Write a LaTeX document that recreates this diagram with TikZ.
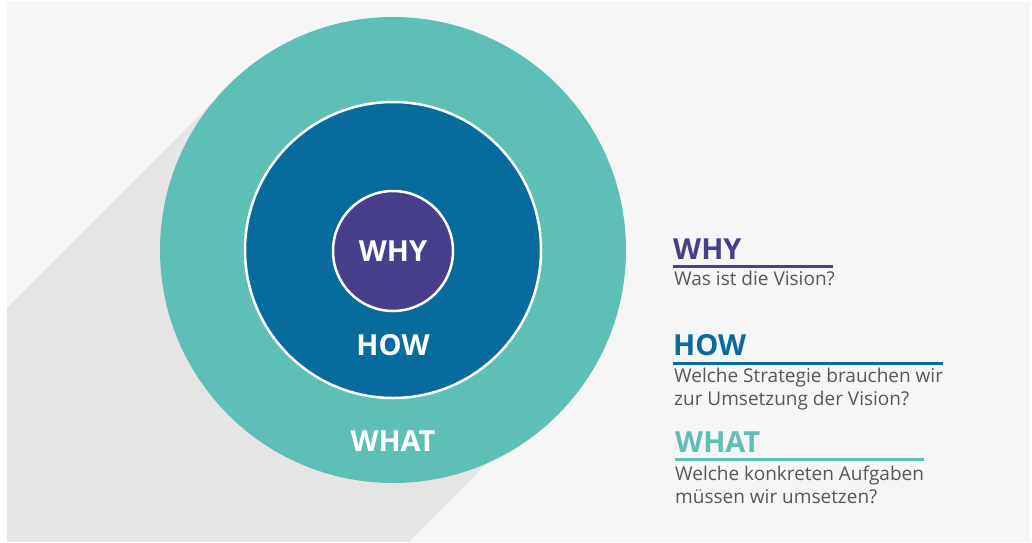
\documentclass[tikz,border=0pt]{standalone}
\usepackage{fontspec}
\setmainfont{Open Sans}
\definecolor{bggray}{HTML}{F6F6F6}
\definecolor{shadowgray}{HTML}{E5E5E5}
\definecolor{whatcol}{HTML}{5EBFB7}
\definecolor{howcol}{HTML}{086B9E}
\definecolor{whycol}{HTML}{473F8B}
\definecolor{txtgray}{HTML}{575757}
\tikzset{
  ring/.style={circle,inner sep=0pt,draw=white,line width=2.5pt,text=white,font=\fontsize{29}{30}\selectfont\bfseries},
  lbl/.style={text=white,font=\fontsize{29}{30}\selectfont\bfseries},
  head/.style={anchor=base west,inner sep=0pt,font=\fontsize{29}{30}\selectfont\bfseries},
  body/.style={anchor=base west,inner sep=0pt,align=left,text=txtgray,font=\fontsize{19}{22.5}\selectfont},
  uline/.style={line width=3pt}
}
\begin{document}
\begin{tikzpicture}[x=1pt,y=-1pt]
\fill[white](0,0)rectangle(1032,542);%白枠
\fill[bggray](7,2)rectangle(1030,542);%背景
\fill[shadowgray](393,250)--(230,85)--(7,308)--(7,542)--(408,542)--(550,400)--cycle;%影
\node[ring,draw=none,fill=whatcol,minimum size=466pt](what)at(393,250){};%外側の円
\node[ring,fill=howcol,minimum size=296pt](how)at(393,250){};%中間の円
\node[ring,fill=whycol,minimum size=120pt](why)at(393,251){WHY};%内側の円
\node[lbl](howlbl)at(393,345){HOW};
\node[lbl](whatlbl)at(393,441){WHAT};
% 右側の説明
\node[head,text=whycol](whyhead)at(673,259){WHY};
\coordinate(whyend)at(833,266);
\draw[uline,whycol](whyhead.base west|-whyend)--(whyend);
\node[body](whytxt)at(674,285){Was ist die Vision?};
\node[head,text=howcol](howhead)at(673,355){HOW};
\coordinate(howend)at(943,363);
\draw[uline,howcol](howhead.base west|-howend)--(howend);
\node[body](howtxt)at(674,405){Welche Strategie brauchen wir\\zur Umsetzung der Vision?};%下の行の基線
\node[head,text=whatcol](whathead)at(675,452){WHAT};
\coordinate(whatend)at(924,459);
\draw[uline,whatcol](whathead.base west|-whatend)--(whatend);
\node[body](whattxt)at(675,503){Welche konkreten Aufgaben\\müssen wir umsetzen?};
\end{tikzpicture}
\end{document}
